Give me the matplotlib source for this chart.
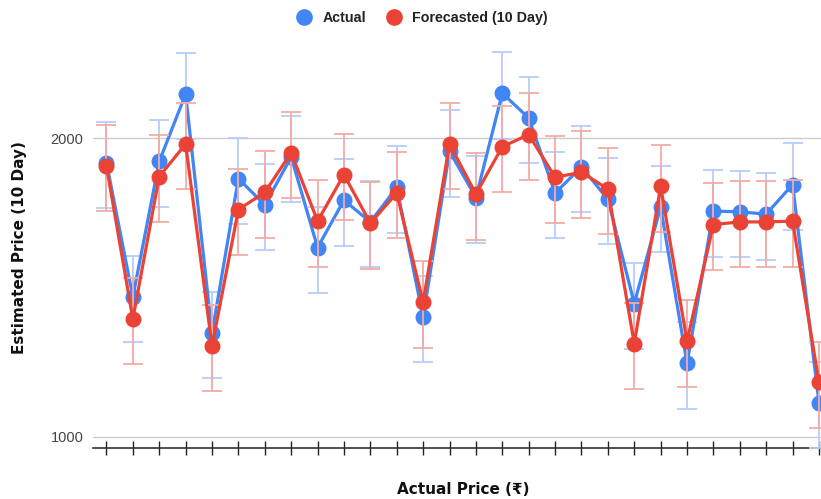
import matplotlib
matplotlib.use("Agg")
import matplotlib.pyplot as plt
from matplotlib.lines import Line2D
import numpy as np

# ---- data ----
actual = [1889, 1383, 1894, 2215, 1272, 1820, 1712, 1914, 1551, 1731, 1646, 1783, 1320, 1939,
          1742, 2219, 2095, 1760, 1870, 1735, 1362, 1704, 1185, 1688, 1685, 1676, 1795, 1082]
actual_low = [1700, 1245, 1705, 1994, 1145, 1638, 1541, 1723, 1396, 1558, 1481, 1605, 1188, 1745,
              1568, 1997, 1886, 1584, 1683, 1562, 1226, 1534, 1067, 1519, 1517, 1508, 1616, 974]
actual_high = [2078, 1521, 2083, 2437, 1399, 2002, 1883, 2105, 1706, 1904, 1811, 1961, 1452, 2133,
               1916, 2441, 2305, 1936, 2057, 1909, 1498, 1874, 1304, 1857, 1854, 1844, 1975, 1190]

forecast = [1874, 1314, 1829, 1972, 1234, 1694, 1763, 1933, 1649, 1837, 1641, 1760, 1366, 1972,
            1756, 1960, 2016, 1826, 1847, 1777, 1241, 1788, 1248, 1636, 1646, 1646, 1649, 1134]
forecast_low = [1687, 1183, 1646, 1775, 1111, 1525, 1587, 1740, 1484, 1653, 1477, 1584, 1229, 1775,
                1580, 1764, 1814, 1643, 1662, 1599, 1117, 1609, 1123, 1472, 1481, 1481, 1484, 1021]
forecast_high = [2061, 1445, 2012, 2169, 1357, 1863, 1939, 2126, 1814, 2021, 1805, 1936, 1503, 2169,
                 1932, 2156, 2218, 2009, 2032, 1955, 1365, 1967, 1373, 1800, 1811, 1811, 1814, 1247]

y_ticks = [1000, 2000]
series_names = ["Actual", "Forecasted (10 Day)"]

BLUE = "#4285F4"
RED = "#EA4335"
BLUE_LIGHT = "#B5CEFA"
RED_LIGHT = "#F5ABA5"

fig = plt.figure(figsize=(8.21, 4.99), dpi=100)
ax = fig.add_axes([0.1136, 0.1032, 0.900, 0.8367])

x = np.arange(len(actual))

def draw(vals, lo, hi, color, light, z):
    vals = np.array(vals, float)
    err = np.vstack([vals - np.array(lo, float), np.array(hi, float) - vals])
    ax.errorbar(x, vals, yerr=err, fmt="none", ecolor=light, elinewidth=1.3,
                capsize=7.5, capthick=1.3, zorder=z)
    ax.plot(x, vals, color=color, lw=2.3, marker="o", ms=10.5, zorder=z + 1,
            solid_joinstyle="round")

draw(actual, actual_low, actual_high, BLUE, BLUE_LIGHT, 3)
draw(forecast, forecast_low, forecast_high, RED, RED_LIGHT, 5)

ax.set_yscale("log")
ax.set_ylim(975, 2570)
ax.set_xlim(-0.5, len(actual) - 0.5)
ax.set_yticks(y_ticks)
ax.set_yticklabels([str(t) for t in y_ticks])
ax.yaxis.set_minor_locator(matplotlib.ticker.NullLocator())
ax.tick_params(axis="y", length=0, pad=7, labelsize=10.5, labelcolor="#444444")
for lab in ax.get_yticklabels():
    lab.set_family(["Liberation Sans", "DejaVu Sans"])
ax.grid(axis="y", color="#cccccc", lw=1)
ax.set_axisbelow(True)

ax.set_xticks(x)
ax.set_xticklabels([])
ax.tick_params(axis="x", direction="inout", length=9.5, width=1, color="#222222")

for s in ["top", "right", "left"]:
    ax.spines[s].set_visible(False)
ax.spines["bottom"].set_color("#333333")
ax.spines["bottom"].set_linewidth(1.2)

label_font = ["DejaVu Sans"]
fig.text(463 / 821, 1 - 490 / 499, "Actual Price (\u20b9)", ha="center", va="center",
         fontsize=11, fontweight="bold", family=label_font, color="#111111")
fig.text(20 / 821, 1 - 248 / 499, "Estimated Price (10 Day)", ha="center", va="center",
         rotation=90, fontsize=11, fontweight="bold", family=label_font, color="#111111")

handles = [Line2D([], [], color=BLUE, marker="o", ls="none", ms=11),
           Line2D([], [], color=RED, marker="o", ls="none", ms=11)]
leg = fig.legend(handles, series_names, loc="center", bbox_to_anchor=(419 / 821, 1 - 18 / 499),
                 ncol=2, frameon=False, handletextpad=0.3, columnspacing=0.9,
                 prop={"family": ["Liberation Sans", "DejaVu Sans"], "weight": "bold", "size": 10.3})
for t in leg.get_texts():
    t.set_color("#222222")

fig.savefig("out.png", dpi=100)
